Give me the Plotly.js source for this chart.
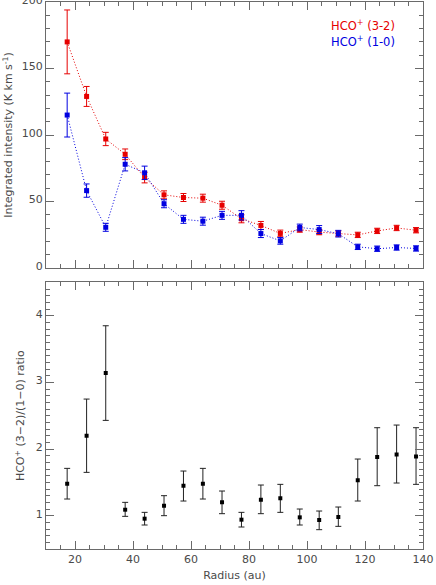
<!DOCTYPE html>
<html><head><meta charset="utf-8">
<script src="https://cdn.plot.ly/plotly-3.0.1.min.js"></script>
<style>html,body{margin:0;padding:0;background:#fff}</style>
</head><body>
<div id="chart" style="width:436px;height:585px"></div>
<script>
const radius = [17.3,24.0,30.6,37.3,44.0,50.7,57.4,64.1,70.7,77.4,84.1,90.8,97.5,104.2,110.8,117.5,124.2,130.9,137.6];
const hco32 = [170,129,97,85.5,68,55,53,52.5,47.2,37,32,26,28.9,27,25.9,24.9,27.9,30.1,28.4];
const hco32Err = [24,7.5,5,4,4,3,3,3,3,3,3,2.5,2,2,2,2,2,2,2];
const hco10 = [115,58.2,30.6,78,71.6,48.3,36.6,35.2,39.6,39.6,25.9,20.4,30.5,28.9,25.8,15.9,14.5,15.4,14.7];
const hco10Err = [16.5,5,3,5,5,3,3,3,3,3.5,3,2.5,2.5,3,2.5,2,2,2,2];
const ratio = [1.48,2.20,3.14,1.09,0.955,1.15,1.45,1.48,1.20,0.94,1.24,1.26,0.975,0.935,0.98,1.53,1.88,1.92,1.89];
const ratioUp = [0.23,0.55,0.71,0.11,0.095,0.15,0.22,0.23,0.17,0.11,0.22,0.21,0.125,0.135,0.15,0.32,0.44,0.44,0.43];
const ratioDown = [0.23,0.55,0.71,0.10,0.095,0.15,0.23,0.23,0.17,0.11,0.21,0.21,0.115,0.145,0.14,0.31,0.43,0.43,0.42];
const legendLabels = ['HCO<sup>+</sup> (3-2)','HCO<sup>+</sup> (1-0)'];

const RED = '#e60000', BLUE = '#0000e0';
const FONT = 'DejaVu Sans, Verdana, sans-serif';
const TXT = '#4a4a4a';
const AX = '#6a6a6a';

const traces = [
  {x: radius, y: hco32, xaxis:'x2', yaxis:'y2', mode:'lines+markers', type:'scatter',
   line:{color:RED, width:1, dash:'1px,2px'}, marker:{symbol:'square', size:5, color:RED},
   error_y:{type:'data', array:hco32Err, color:RED, thickness:1, width:3}},
  {x: radius, y: hco10, xaxis:'x2', yaxis:'y2', mode:'lines+markers', type:'scatter',
   line:{color:BLUE, width:1, dash:'1px,2px'}, marker:{symbol:'square', size:5, color:BLUE},
   error_y:{type:'data', array:hco10Err, color:BLUE, thickness:1, width:3}},
  {x: radius, y: ratio, xaxis:'x', yaxis:'y', mode:'markers', type:'scatter',
   marker:{symbol:'square', size:4, color:'#000'},
   error_y:{type:'data', symmetric:false, array:ratioUp, arrayminus:ratioDown, color:'#222', thickness:1, width:3}}
];

function axisBase(extra){
  return Object.assign({
    showline:true, linecolor:AX, linewidth:1, mirror:'allticks',
    ticks:'inside', ticklen:8, tickcolor:AX, tickwidth:1,
    showgrid:false, zeroline:false, ticklabeloverflow:'allow',
    tickfont:{family:FONT, size:11, color:TXT}
  }, extra);
}

const layout = {
  width:436, height:585,
  margin:{l:46, r:13, t:2, b:36},
  paper_bgcolor:'#fff', plot_bgcolor:'#fff',
  showlegend:false,
  font:{family:FONT, size:11, color:TXT},
  xaxis: axisBase({range:[10,140], anchor:'y', dtick:20, tick0:0,
    minor:{dtick:5, ticklen:4, ticks:'inside', tickcolor:AX},
    title:{text:'Radius (au)', font:{family:FONT, size:11, color:TXT}, standoff:6}}),
  yaxis: axisBase({range:[0.5,4.5], domain:[0,0.4873], anchor:'x', dtick:1, tick0:0,
    ticklabelshift:-2,
    minor:{dtick:0.1, ticklen:4, ticks:'inside', tickcolor:AX},
    title:{text:'HCO<sup>+</sup> (3\u22122)/(1\u22120) ratio', font:{family:FONT, size:11, color:TXT}, standoff:8}}),
  xaxis2: axisBase({range:[10,140], anchor:'y2', dtick:20, tick0:0, showticklabels:false,
    minor:{dtick:5, ticklen:4, ticks:'inside', tickcolor:AX}}),
  yaxis2: axisBase({range:[0,200], domain:[0.5137,1], anchor:'x2', dtick:50, tick0:0,
    ticklabelshift:-2,
    minor:{dtick:10, ticklen:4, ticks:'inside', tickcolor:AX},
    title:{text:'Integrated intensity (K km s<sup>-1</sup>)', font:{family:FONT, size:11, color:TXT}, standoff:6}}),
  annotations:[
    {text:legendLabels[0], xref:'paper', yref:'paper', x:0.93, y:0.957, xanchor:'right', yanchor:'middle',
     showarrow:false, font:{family:FONT, size:11.5, color:RED}},
    {text:legendLabels[1], xref:'paper', yref:'paper', x:0.93, y:0.927, xanchor:'right', yanchor:'middle',
     showarrow:false, font:{family:FONT, size:11.5, color:BLUE}}
  ]
};

Plotly.newPlot('chart', traces, layout, {displayModeBar:false, staticPlot:true});
</script>
</body></html>
